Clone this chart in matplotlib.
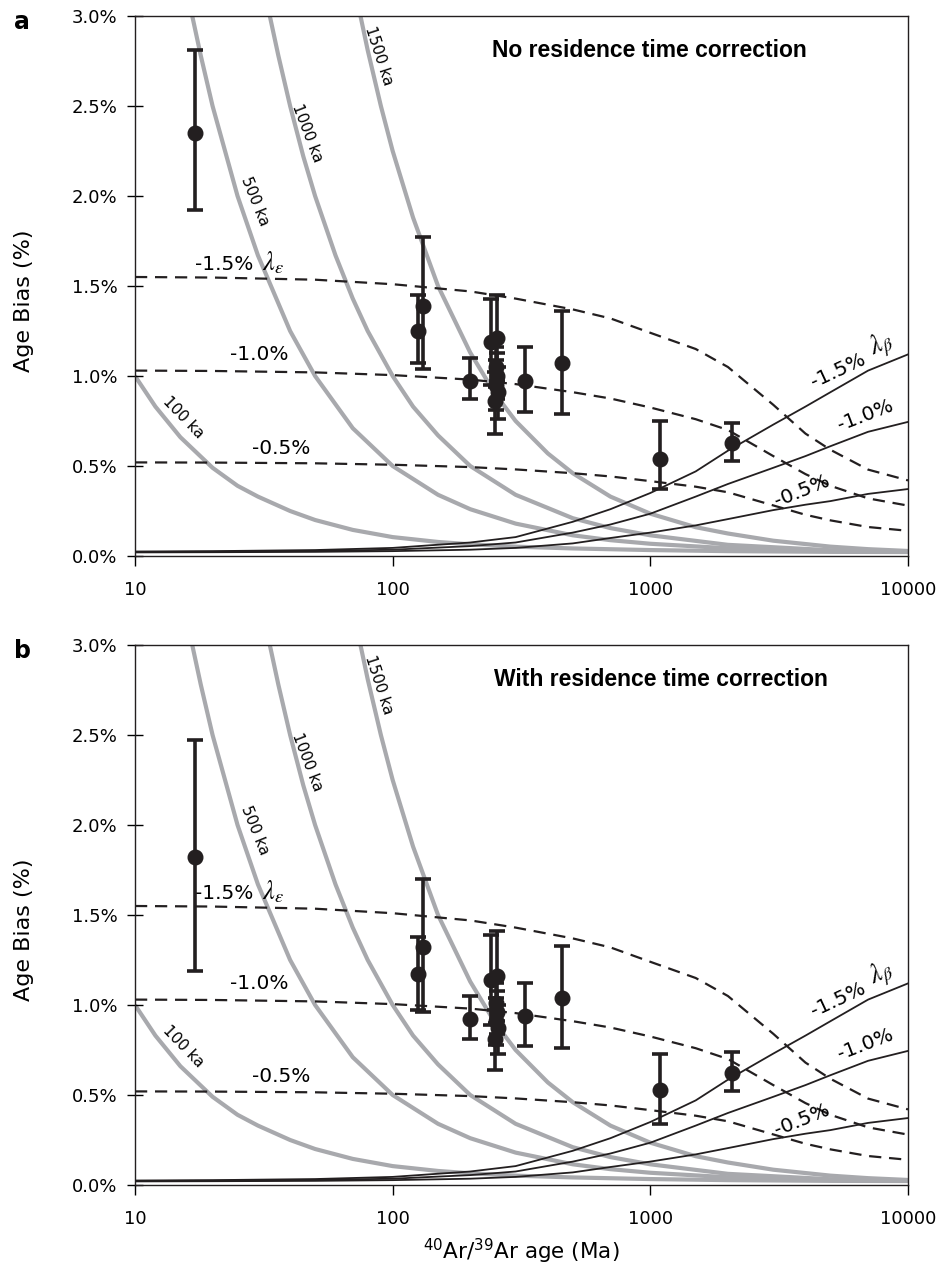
import numpy as np
import matplotlib
matplotlib.use("Agg")
import matplotlib.pyplot as plt
from matplotlib.ticker import NullLocator

plt.rcParams['font.family'] = ['DejaVu Sans']

# data points, panel a (no residence time correction)
ages = [17.1, 125, 131.6, 200, 240, 253, 252, 255, 251, 257, 250, 326, 453, 1089, 2067]
bias_a = [2.35, 1.25, 1.39, 0.97, 1.19, 1.21, 1.05, 1.00, 0.95, 0.91, 0.86, 0.97, 1.07, 0.54, 0.63]
hi_a = [2.81, 1.45, 1.77, 1.10, 1.43, 1.45, 1.16, 1.13, 1.09, 1.05, 1.02, 1.16, 1.36, 0.75, 0.74]
lo_a = [1.92, 1.07, 1.04, 0.87, 0.95, 0.97, 0.94, 0.87, 0.81, 0.76, 0.68, 0.80, 0.79, 0.37, 0.53]

# panel b (with residence time correction)
bias_b = [1.82, 1.17, 1.32, 0.92, 1.14, 1.16, 1.01, 0.96, 0.91, 0.87, 0.81, 0.94, 1.04, 0.53, 0.62]
hi_b = [2.47, 1.38, 1.70, 1.05, 1.39, 1.41, 1.12, 1.08, 1.04, 1.00, 0.97, 1.12, 1.33, 0.73, 0.74]
lo_b = [1.19, 0.97, 0.96, 0.81, 0.89, 0.91, 0.90, 0.84, 0.78, 0.73, 0.64, 0.77, 0.76, 0.34, 0.52]

# residence time curves (grey)
rt_labels = ['100 ka', '500 ka', '1000 ka', '1500 ka']
rt_ages = [
    [10, 12, 15, 20, 25, 30, 40, 50, 70, 100, 150, 200, 300, 500, 1000, 2000, 5000, 10000],
    [16, 18, 20, 25, 30, 40, 50, 70, 100, 150, 200, 300, 500, 700, 1000, 2000, 5000, 10000],
    [32, 36, 40, 45, 50, 60, 70, 80, 100, 120, 150, 200, 300, 500, 700, 1000, 2000, 5000, 10000],
    [70, 75, 80, 90, 100, 120, 150, 200, 250, 300, 400, 500, 700, 1000, 1500, 2000, 3000, 5000, 7000, 10000],
]
rt_bias = [
    [1.00, 0.83, 0.66, 0.49, 0.39, 0.33, 0.25, 0.20, 0.145, 0.105, 0.078, 0.065, 0.052, 0.042, 0.033, 0.027, 0.023, 0.022],
    [3.12, 2.78, 2.50, 2.00, 1.67, 1.25, 1.00, 0.71, 0.50, 0.34, 0.26, 0.18, 0.115, 0.088, 0.068, 0.043, 0.028, 0.023],
    [3.12, 2.78, 2.50, 2.22, 2.00, 1.67, 1.43, 1.25, 1.00, 0.83, 0.67, 0.50, 0.34, 0.21, 0.155, 0.115, 0.062, 0.032, 0.024],
    [3.20, 3.00, 2.81, 2.50, 2.25, 1.88, 1.50, 1.13, 0.90, 0.75, 0.57, 0.46, 0.33, 0.235, 0.16, 0.125, 0.085, 0.052, 0.038, 0.028],
]
rt_label_pos = [(15.4, 0.77, -46), (29.2, 1.97, -68), (46.4, 2.35, -69), (88.5, 2.78, -72)]

# decay constant curves
lam_ages = [10, 20, 50, 100, 200, 300, 500, 700, 1000, 1500, 2000, 3000, 4000, 5000, 7000, 10000]
eps_15 = [1.55, 1.547, 1.535, 1.51, 1.47, 1.43, 1.37, 1.32, 1.24, 1.15, 1.05, 0.84, 0.68, 0.59, 0.48, 0.42]
eps_10 = [1.03, 1.028, 1.02, 1.005, 0.98, 0.955, 0.91, 0.875, 0.825, 0.76, 0.70, 0.555, 0.455, 0.39, 0.32, 0.28]
eps_05 = [0.52, 0.519, 0.515, 0.507, 0.494, 0.481, 0.46, 0.442, 0.416, 0.385, 0.354, 0.281, 0.229, 0.198, 0.161, 0.14]
beta_15 = [0.025, 0.027, 0.033, 0.045, 0.075, 0.105, 0.19, 0.26, 0.35, 0.47, 0.585, 0.73, 0.83, 0.91, 1.03, 1.12]
beta_10 = [0.022, 0.024, 0.028, 0.035, 0.055, 0.075, 0.13, 0.175, 0.235, 0.33, 0.40, 0.49, 0.555, 0.61, 0.69, 0.745]
beta_05 = [0.02, 0.021, 0.023, 0.027, 0.035, 0.045, 0.07, 0.10, 0.13, 0.17, 0.205, 0.255, 0.285, 0.305, 0.345, 0.372]

yticks = [0, 0.5, 1.0, 1.5, 2.0, 2.5, 3.0]
ytick_labels = ['0.0%', '0.5%', '1.0%', '1.5%', '2.0%', '2.5%', '3.0%']
xticks = [10, 100, 1000, 10000]
xtick_labels = ['10', '100', '1000', '10000']

GREY = '#a8a9ad'
INK = '#231f20'

fig = plt.figure(figsize=(9.41, 12.73), dpi=100)
W, H = 941.0, 1273.0


def panel(top_px, bias, hi, lo, letter, title, title_x):
    ax = fig.add_axes([135 / W, 1 - (top_px + 540) / H, 773 / W, 540 / H])
    ax.set_xscale('log')
    ax.set_xlim(10, 10000)
    ax.set_ylim(0, 3.0)

    for a, b in zip(rt_ages, rt_bias):
        ax.plot(a, b, color=GREY, lw=3.0, solid_capstyle='butt', zorder=1)
    for lab, (x, y, rot) in zip(rt_labels, rt_label_pos):
        ax.text(x, y, lab, rotation=rot, ha='center', va='center', fontsize=11, zorder=2)

    for e in (eps_15, eps_10, eps_05):
        ax.plot(lam_ages, e, color=INK, lw=1.6, ls=(0, (5.5, 3.5)), zorder=3)
    for bcurve in (beta_15, beta_10, beta_05):
        ax.plot(lam_ages, bcurve, color=INK, lw=1.3, zorder=3)

    b = np.array(bias)
    yerr = [b - np.array(lo), np.array(hi) - b]
    ax.errorbar(ages, b, yerr=yerr, fmt='o', color=INK, ms=10.5, elinewidth=2.6,
                capsize=6, capthick=2.6, zorder=5)

    # lambda_epsilon labels
    ax.text(22.2, 1.62, '-1.5%', fontsize=14.5, ha='center', va='center', zorder=4)
    ax.text(34.5, 1.625, r'$\lambda_{\varepsilon}$', math_fontfamily='stix',
            fontsize=19, ha='center', va='center', zorder=4)
    ax.text(30.3, 1.12, '-1.0%', fontsize=14.5, ha='center', va='center', zorder=4)
    ax.text(37, 0.60, '-0.5%', fontsize=14.5, ha='center', va='center', zorder=4)
    # lambda_beta labels
    ax.text(5350, 1.03, '-1.5%', fontsize=14.5, rotation=25, ha='center', va='center', zorder=4)
    ax.text(7900, 1.17, r'$\lambda_{\beta}$', math_fontfamily='stix',
            fontsize=19, rotation=25, ha='center', va='center', zorder=4)
    ax.text(6800, 0.78, '-1.0%', fontsize=14.5, rotation=21, ha='center', va='center', zorder=4)
    ax.text(3870, 0.36, '-0.5%', fontsize=14.5, rotation=22, ha='center', va='center', zorder=4)

    ax.text(title_x, 0.937, title, transform=ax.transAxes, fontsize=16.5,
            fontweight='bold', family='Liberation Sans', ha='center', va='center')

    ax.set_yticks(yticks)
    ax.set_yticklabels(ytick_labels)
    ax.set_xticks(xticks)
    ax.set_xticklabels(xtick_labels)
    ax.xaxis.set_minor_locator(NullLocator())
    ax.tick_params(axis='y', direction='inout', length=11, width=1.0, pad=7, labelsize=13)
    ax.tick_params(axis='x', direction='out', length=7, width=1.0, pad=11, labelsize=13)
    for s in ax.spines.values():
        s.set_linewidth(1.0)
        s.set_color(INK)
    ax.set_ylabel('Age Bias (%)', fontsize=16)
    ax.yaxis.set_label_coords(-0.131, 0.473)

    fig.text(22 / W, 1 - (top_px + 6) / H, letter, fontsize=17, fontweight='bold',
             ha='center', va='center')
    return ax


panel(16, bias_a, hi_a, lo_a, 'a', 'No residence time correction', 0.665)
axb = panel(645, bias_b, hi_b, lo_b, 'b', 'With residence time correction', 0.68)
axb.set_xlabel(r'$^{40}$Ar/$^{39}$Ar age (Ma)', fontsize=15.5, labelpad=6)

fig.savefig('out.png', dpi=100)
